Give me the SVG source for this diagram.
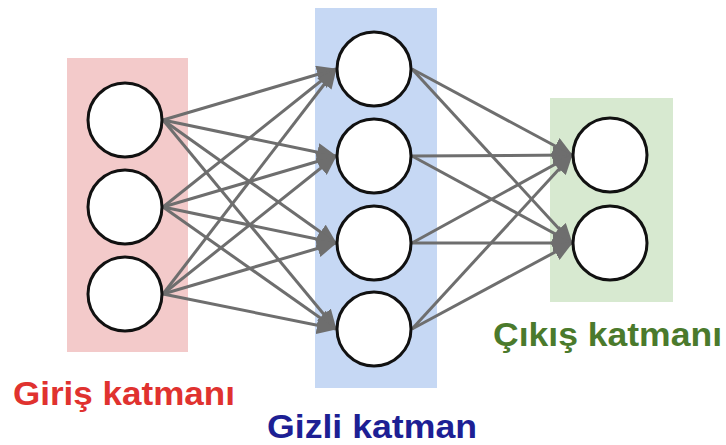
<svg xmlns="http://www.w3.org/2000/svg" width="726" height="445" viewBox="0 0 726 445">
  <style>
    .node { fill: #ffffff; stroke: #111111; stroke-width: 3; }
    .edge { stroke: #6e6e6e; stroke-width: 3; fill: none; marker-end: url(#arrow); }
    .label { font-family: "Liberation Sans", Arial, sans-serif; font-weight: bold; font-size: 33px; }
  </style>
  <defs>
    <marker id="arrow" markerUnits="userSpaceOnUse" markerWidth="20" markerHeight="18" viewBox="0 0 20 18" refX="19" refY="9" orient="auto">
      <path d="M0,0 L20,9 L0,18 Z" fill="#6e6e6e"/>
    </marker>
  </defs>

  <rect width="726" height="445" fill="#ffffff"/>

  <!-- layer backgrounds -->
  <rect x="67" y="58" width="121" height="294" fill="#f3caca"/>
  <rect x="315" y="8" width="122" height="380" fill="#c6d8f4"/>
  <rect x="550" y="98" width="123" height="204" fill="#d7e9d0"/>

  <!-- connectors -->
  <g id="connectors">
    <!-- input -> hidden -->
    <line class="edge" x1="163" y1="120" x2="336" y2="69"/>
    <line class="edge" x1="163" y1="120" x2="336" y2="156"/>
    <line class="edge" x1="163" y1="120" x2="336" y2="243"/>
    <line class="edge" x1="163" y1="120" x2="336" y2="329"/>
    <line class="edge" x1="163" y1="207" x2="336" y2="69"/>
    <line class="edge" x1="163" y1="207" x2="336" y2="156"/>
    <line class="edge" x1="163" y1="207" x2="336" y2="243"/>
    <line class="edge" x1="163" y1="207" x2="336" y2="329"/>
    <line class="edge" x1="163" y1="294" x2="336" y2="69"/>
    <line class="edge" x1="163" y1="294" x2="336" y2="156"/>
    <line class="edge" x1="163" y1="294" x2="336" y2="243"/>
    <line class="edge" x1="163" y1="294" x2="336" y2="329"/>
    <!-- hidden -> output -->
    <line class="edge" x1="412" y1="69" x2="572" y2="155"/>
    <line class="edge" x1="412" y1="69" x2="572" y2="243"/>
    <line class="edge" x1="412" y1="156" x2="572" y2="155"/>
    <line class="edge" x1="412" y1="156" x2="572" y2="243"/>
    <line class="edge" x1="412" y1="243" x2="572" y2="155"/>
    <line class="edge" x1="412" y1="243" x2="572" y2="243"/>
    <line class="edge" x1="412" y1="329" x2="572" y2="155"/>
    <line class="edge" x1="412" y1="329" x2="572" y2="243"/>
  </g>

  <!-- input layer -->
  <g id="in1"><circle class="node" cx="125" cy="120" r="37"/></g>
  <g id="in2"><circle class="node" cx="125" cy="207" r="37"/></g>
  <g id="in3"><circle class="node" cx="125" cy="294" r="37"/></g>

  <!-- hidden layer -->
  <g id="h1"><circle class="node" cx="374" cy="69" r="37"/></g>
  <g id="h2"><circle class="node" cx="374" cy="156" r="37"/></g>
  <g id="h3"><circle class="node" cx="374" cy="243" r="37"/></g>
  <g id="h4"><circle class="node" cx="374" cy="329" r="37"/></g>

  <!-- output layer -->
  <g id="out1"><circle class="node" cx="610" cy="155" r="37"/></g>
  <g id="out2"><circle class="node" cx="610" cy="243" r="37"/></g>

  <!-- layer names -->
  <g id="label-input"><text class="label" x="13" y="405" textLength="222" lengthAdjust="spacingAndGlyphs" fill="#e0322f">Giriş katmanı</text></g>
  <g id="label-hidden"><text class="label" x="267" y="438" textLength="210" lengthAdjust="spacingAndGlyphs" fill="#1d1f94">Gizli katman</text></g>
  <g id="label-output"><text class="label" x="493" y="346" textLength="229" lengthAdjust="spacingAndGlyphs" fill="#4b7a2c">Çıkış katmanı</text></g>
</svg>
